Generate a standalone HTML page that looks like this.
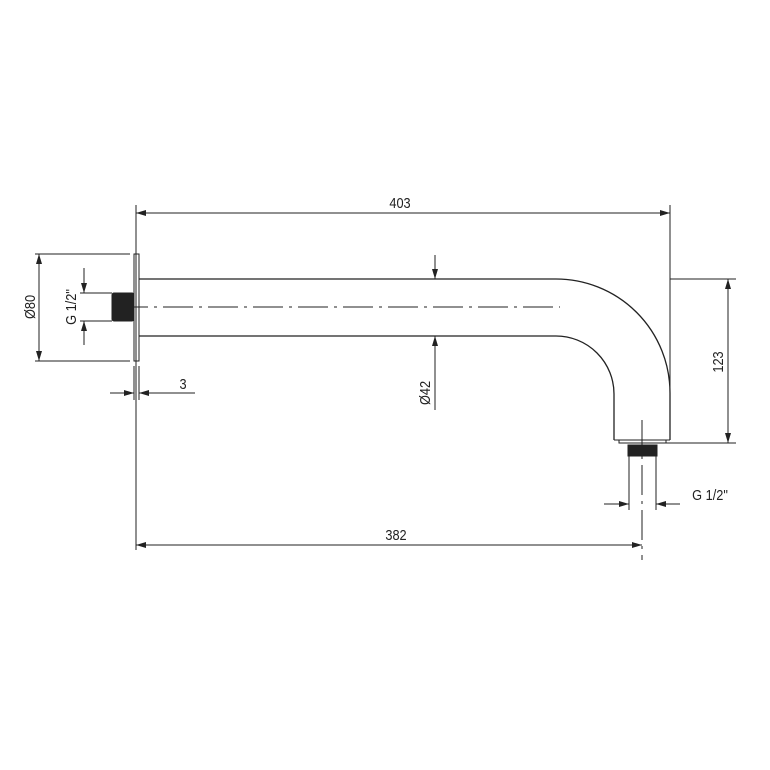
<!DOCTYPE html>
<html><head><style>body{margin:0;background:#fff}svg{display:block}text{font-family:"Liberation Sans",sans-serif;font-size:15px;fill:#222}</style></head><body>
<svg width="770" height="770" viewBox="0 0 770 770" xmlns="http://www.w3.org/2000/svg">
<defs><marker id="a" markerWidth="10" markerHeight="6" refX="10" refY="3" orient="auto-start-reverse" markerUnits="userSpaceOnUse"><path d="M0,0L10,3L0,6z" fill="#222"/></marker></defs>
<g stroke="#222" stroke-width="1" fill="none">
<rect x="134" y="254" width="5" height="107"/>
<rect x="112" y="293" width="22" height="28" rx="2" fill="#222"/>
<path d="M139,279H556A114,114 0 0 1 670,393V440" stroke-width="1.3"/>
<path d="M139,336H556A58,58 0 0 1 614,394V440" stroke-width="1.3"/>
<path d="M614,440H670"/>
<rect x="619" y="440" width="47" height="3"/>
<rect x="628" y="445" width="29" height="11" fill="#222"/>
<path d="M118,307H560" stroke-dasharray="30,6,3,6"/>
<path d="M642,420V560" stroke-dasharray="30,6,3,6"/>
<path d="M136,205V550M670,205V440"/>
<path d="M136,213H670" marker-start="url(#a)" marker-end="url(#a)"/>
<path d="M136,545H642" marker-start="url(#a)" marker-end="url(#a)"/>
<path d="M670,279H736M660,443H736"/>
<path d="M728,279V443" marker-start="url(#a)" marker-end="url(#a)"/>
<path d="M629,447V510M656,447V510"/>
<path d="M604,504H629" marker-end="url(#a)"/>
<path d="M680,504H656" marker-end="url(#a)"/>
<path d="M35,254H130M35,361H130"/>
<path d="M39,254V361" marker-start="url(#a)" marker-end="url(#a)"/>
<path d="M80,293H112M80,321H112"/>
<path d="M84,268V293" marker-end="url(#a)"/>
<path d="M84,345V321" marker-end="url(#a)"/>
<path d="M110,393H134" marker-end="url(#a)"/>
<path d="M195,393H139" marker-end="url(#a)"/>
<path d="M134,366V400M139,366V400"/>
<path d="M435,255V279" marker-end="url(#a)"/>
<path d="M435,410V336" marker-end="url(#a)"/>
</g>
<g transform="scale(1,1)">
<text transform="translate(400,208) scale(0.85,1)" text-anchor="middle">403</text>
<text transform="translate(396,540) scale(0.85,1)" text-anchor="middle">382</text>
<text transform="translate(183,389) scale(0.85,1)" text-anchor="middle">3</text>
<text transform="translate(710,500) scale(0.85,1)" text-anchor="middle">G 1/2"</text>
<text transform="translate(723,362) rotate(-90) scale(0.85,1)" text-anchor="middle">123</text>
<text transform="translate(35,307) rotate(-90) scale(0.85,1)" text-anchor="middle">Ø80</text>
<text transform="translate(76,307) rotate(-90) scale(0.85,1)" text-anchor="middle">G 1/2"</text>
<text transform="translate(430,393) rotate(-90) scale(0.85,1)" text-anchor="middle">Ø42</text>
</g>
</svg>
</body></html>
